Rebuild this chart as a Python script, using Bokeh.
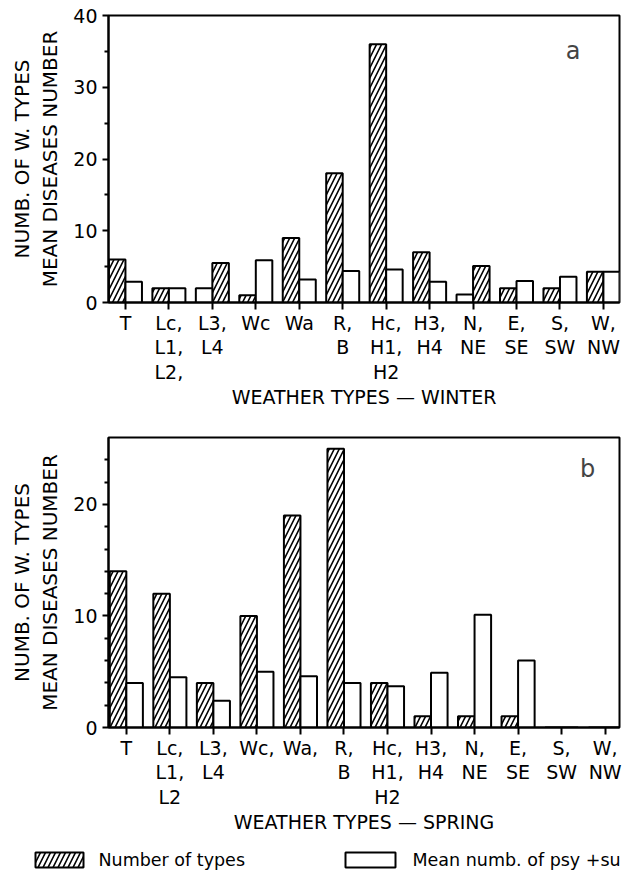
import numpy as np
from bokeh.plotting import figure
from bokeh.layouts import column, row
from bokeh.models import FixedTicker, Label, Range1d, LinearAxis
from bokeh.core.properties import value
from bokeh.embed import file_html
from bokeh.resources import INLINE

# ---------------- data ----------------
winter_labels = ["T", "Lc,\nL1,\nL2,", "L3,\nL4", "Wc", "Wa", "R,\nB",
                 "Hc,\nH1,\nH2", "H3,\nH4", "N,\nNE", "E,\nSE", "S,\nSW", "W,\nNW"]
winter_types = [6, 2, 5.5, 1, 9, 18, 36, 7, 5.1, 2, 2, 4.3]
winter_mean = [2.9, 2, 2, 5.9, 3.2, 4.4, 4.6, 2.9, 1.1, 3.0, 3.6, 4.3]
winter_hatched_right = [False, False, True, False, False, False,
                        False, False, True, False, False, False]

spring_labels = ["T", "Lc,\nL1,\nL2", "L3,\nL4", "Wc,", "Wa,", "R,\nB",
                 "Hc,\nH1,\nH2", "H3,\nH4", "N,\nNE", "E,\nSE", "S,\nSW", "W,\nNW"]
spring_types = [14, 12, 4, 10, 19, 25, 4, 1, 1, 1, 0, 0]
spring_mean = [4.0, 4.5, 2.4, 5.0, 4.6, 4.0, 3.7, 4.9, 10.1, 6.0, 0, 0]
spring_hatched_right = [False] * 12

y_label_outer = "NUMB. OF W. TYPES"
y_label_inner = "MEAN DISEASES NUMBER"
legend_labels = ["Number of types", "Mean numb. of psy +su"]

FONT = "DejaVu Sans"
FS = "19px"
BW = 0.38
HATCH = dict(hatch_pattern="/", hatch_scale=10, hatch_weight=1.6,
             hatch_color="black")


def style_label(ax, size=FS):
    ax.axis_label_text_font = FONT
    ax.axis_label_text_font_size = size
    ax.axis_label_text_font_style = "normal"
    ax.axis_label_text_color = "black"


def label_axis(text, standoff):
    ax = LinearAxis(ticker=FixedTicker(ticks=[]), axis_label=text,
                    axis_line_color=None, major_tick_out=0, major_tick_in=0,
                    minor_tick_out=0, minor_tick_in=0,
                    major_label_text_font_size="0px",
                    major_label_standoff=0, axis_label_standoff=standoff)
    style_label(ax, "20px")
    return ax


def make_panel(labels, types, mean, right_flags, y_max, y_major, y_minor,
               x_lo, x_hi, xlabel, letter, letter_x, letter_y,
               height, b_top, b_bottom):
    p = figure(width=635, height=height, output_backend="svg",
               toolbar_location=None,
               x_range=Range1d(x_lo, x_hi), y_range=Range1d(0, y_max),
               min_border_left=108, min_border_right=16,
               min_border_top=b_top, min_border_bottom=b_bottom)
    idx = np.arange(len(labels))
    flags = np.array(right_flags)
    types_x = idx + np.where(flags, BW / 2, -BW / 2)
    mean_x = idx + np.where(flags, -BW / 2, BW / 2)
    p.vbar(x=types_x, top=types, bottom=0, width=BW, fill_color="white",
           line_color="black", line_width=2, **HATCH)
    p.vbar(x=mean_x, top=mean, bottom=0, width=BW, fill_color="white",
           line_color="black", line_width=2)

    p.grid.visible = False
    p.outline_line_color = "black"
    p.outline_line_width = 2
    p.outline_line_alpha = 1

    xa = p.xaxis[0]
    ya = p.yaxis[0]
    xa.ticker = FixedTicker(ticks=list(range(len(labels))))
    xa.major_label_overrides = {i: lab for i, lab in enumerate(labels)}
    xa.major_tick_out = 7
    xa.major_tick_in = 0
    xa.major_label_standoff = 2
    xa.major_label_text_line_height = 1.13
    xa.axis_label = xlabel
    xa.axis_label_standoff = 0
    style_label(xa)

    ya.ticker = FixedTicker(ticks=y_major, minor_ticks=y_minor)
    ya.major_tick_out = 6
    ya.major_tick_in = 0
    ya.minor_tick_out = 4
    ya.minor_tick_in = 0

    for ax in (xa, ya):
        ax.axis_line_width = 2
        ax.major_tick_line_width = 2
        ax.minor_tick_line_width = 2
        ax.major_label_text_font = FONT
        ax.major_label_text_font_size = FS
        ax.major_label_text_color = "black"

    # two-line y label, each line as a label-only axis
    p.add_layout(label_axis(y_label_inner, 9), "left")
    p.add_layout(label_axis(y_label_outer, 1), "left")

    p.add_layout(Label(x=letter_x, y=letter_y, text=letter,
                       text_font=FONT, text_font_size="24px",
                       text_align="center", text_baseline="middle"))
    return p


p1 = make_panel(winter_labels, winter_types, winter_mean, winter_hatched_right,
                40, [0, 10, 20, 30, 40], [5, 15, 25, 35],
                -0.39, 11.37, "WEATHER TYPES \u2014 WINTER", "a", 10.3, 35,
                420, 15, 118)
p2 = make_panel(spring_labels, spring_types, spring_mean, spring_hatched_right,
                26, [0, 10, 20], [2, 4, 6, 8, 12, 14, 16, 18, 22, 24],
                -0.41, 11.33, "WEATHER TYPES \u2014 SPRING", "b", 10.6, 23.2,
                416, 17, 109)

# legend strip (screen-like coordinates, 0..635 x 0..40)
p3 = figure(width=635, height=40, output_backend="svg", toolbar_location=None,
            x_range=Range1d(0, 635), y_range=Range1d(0, 40),
            x_axis_location=None, y_axis_location=None,
            min_border=0, outline_line_color=None)
p3.grid.visible = False
p3.quad(left=[35], right=[83], bottom=[9], top=[24], fill_color="white",
        line_color="black", line_width=2, **HATCH)
p3.quad(left=[345], right=[395], bottom=[9], top=[24], fill_color="white",
        line_color="black", line_width=2)
p3.text(x=[98, 412], y=[17, 17], text=legend_labels,
        text_font=value(FONT), text_font_size=value("17.5px"),
        text_baseline="middle", text_align="left", text_color="black")

layout = column(column(p1, p2, spacing=0), row(p3), spacing=0)
open("out.html", "w").write(file_html(layout, INLINE))
